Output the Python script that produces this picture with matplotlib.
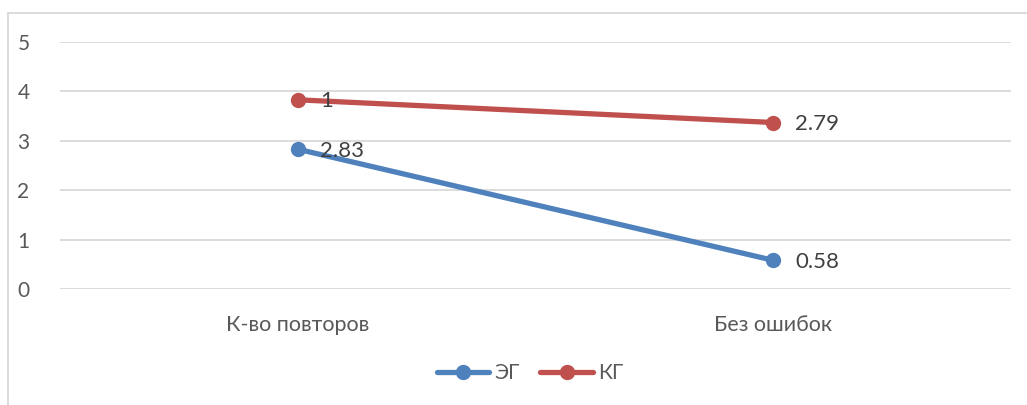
import matplotlib
matplotlib.use("Agg")
import matplotlib.pyplot as plt
from matplotlib.lines import Line2D
import numpy as np

categories = ["К-во повторов", "Без ошибок"]
series_names = ["ЭГ", "КГ"]
eg_values = [2.83, 0.58]
kg_values = [1, 2.79]
colors = ["#4F81BD", "#C0504D"]
y_ticks = [0, 1, 2, 3, 4, 5]

plt.rcParams["font.family"] = ["Lato", "DejaVu Sans"]

W, H = 1027, 405
fig = plt.figure(figsize=(W / 100, H / 100), dpi=100)
ax = fig.add_axes([60 / W, 1 - 289 / H, 951 / W, (289 - 42) / H])

x = np.arange(len(categories))
eg = np.array(eg_values)
kg_stacked = eg + np.array(kg_values)

for vals, raw, color, name in [(eg, eg_values, colors[0], series_names[0]),
                               (kg_stacked, kg_values, colors[1], series_names[1])]:
    ax.plot(x, vals, color=color, lw=3.8, marker="o", ms=10,
            solid_capstyle="round", label=name, zorder=3)
    for xi, yi, r in zip(x, vals, raw):
        ax.annotate(f"{r:g}", (xi, yi), xytext=(16, -1), textcoords="offset points",
                    ha="left", va="center", fontsize=16, color="#404040", zorder=4)

ax.set_xlim(-0.5, len(categories) - 0.5)
ax.set_ylim(0, 5)
ax.set_yticks(y_ticks)
ax.set_xticks(x)
ax.set_xticklabels(categories, fontsize=15.5)
ax.grid(axis="y", color="#D9D9D9", lw=1.3)
ax.set_axisbelow(True)
for s in ax.spines.values():
    s.set_visible(False)
ax.tick_params(axis="both", length=0, colors="#595959")
ax.tick_params(axis="y", pad=22, labelsize=15)
ax.tick_params(axis="x", pad=19)

leg = fig.legend(loc="center", bbox_to_anchor=(530 / W, 1 - 373 / H), ncol=2,
                 frameon=False, fontsize=15, handlelength=2.5, handletextpad=0.25,
                 columnspacing=1.0)
for t in leg.get_texts():
    t.set_color("#595959")

# chart frame
fig.add_artist(Line2D([8 / W, 1], [1 - 13 / H, 1 - 13 / H], transform=fig.transFigure,
                      color="#D9D9D9", lw=1.3))
fig.add_artist(Line2D([8 / W, 8 / W], [1 - 13 / H, 0], transform=fig.transFigure,
                      color="#D9D9D9", lw=1.3))

fig.savefig("out.png", dpi=100, facecolor="white")
